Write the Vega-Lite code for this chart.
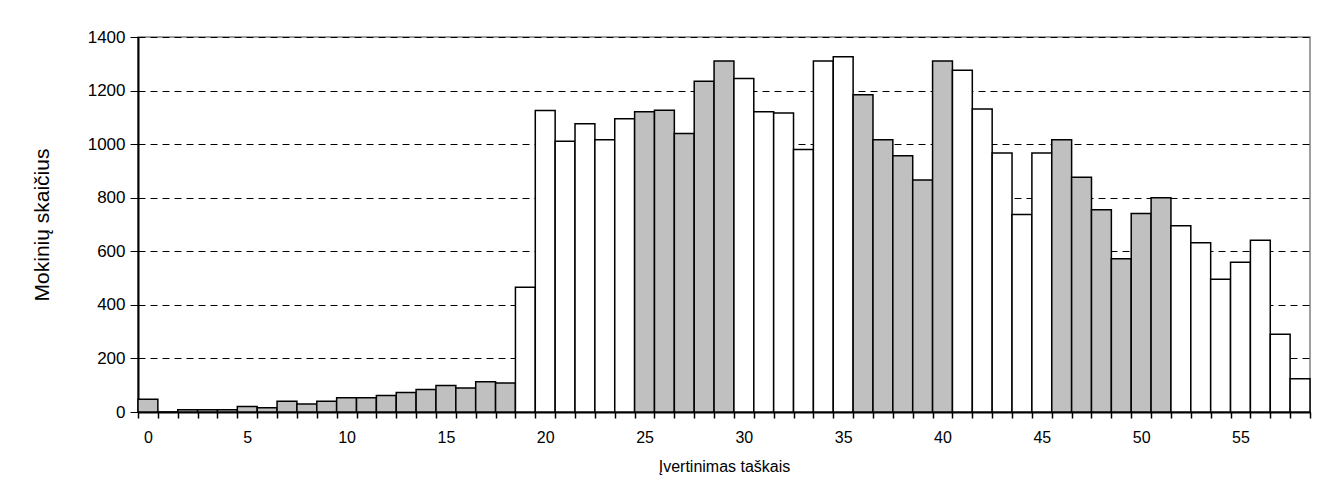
{
  "$schema": "https://vega.github.io/schema/vega-lite/v6.json",
  "width": 1172,
  "height": 375,
  "autosize": {"type": "none"},
  "padding": {"left": 138, "top": 37, "right": 19, "bottom": 81},
  "background": "white",
  "config": {
    "font": "Liberation Sans",
    "view": {"stroke": "#808080", "strokeWidth": 1.5},
    "axis": {"labelFont": "Liberation Sans", "titleFont": "Liberation Sans", "labelColor": "black", "titleColor": "black", "titleFontWeight": "normal"}
  },
  "data": {
    "values": [
      {"taskai": 0, "mokiniai": 48, "grupe": "A"},
      {"taskai": 1, "mokiniai": 0, "grupe": "A"},
      {"taskai": 2, "mokiniai": 8, "grupe": "A"},
      {"taskai": 3, "mokiniai": 8, "grupe": "A"},
      {"taskai": 4, "mokiniai": 8, "grupe": "A"},
      {"taskai": 5, "mokiniai": 21, "grupe": "A"},
      {"taskai": 6, "mokiniai": 16, "grupe": "A"},
      {"taskai": 7, "mokiniai": 40, "grupe": "A"},
      {"taskai": 8, "mokiniai": 30, "grupe": "A"},
      {"taskai": 9, "mokiniai": 40, "grupe": "A"},
      {"taskai": 10, "mokiniai": 53, "grupe": "A"},
      {"taskai": 11, "mokiniai": 53, "grupe": "A"},
      {"taskai": 12, "mokiniai": 62, "grupe": "A"},
      {"taskai": 13, "mokiniai": 73, "grupe": "A"},
      {"taskai": 14, "mokiniai": 84, "grupe": "A"},
      {"taskai": 15, "mokiniai": 99, "grupe": "A"},
      {"taskai": 16, "mokiniai": 90, "grupe": "A"},
      {"taskai": 17, "mokiniai": 113, "grupe": "A"},
      {"taskai": 18, "mokiniai": 108, "grupe": "A"},
      {"taskai": 19, "mokiniai": 466, "grupe": "B"},
      {"taskai": 20, "mokiniai": 1126, "grupe": "B"},
      {"taskai": 21, "mokiniai": 1011, "grupe": "B"},
      {"taskai": 22, "mokiniai": 1076, "grupe": "B"},
      {"taskai": 23, "mokiniai": 1016, "grupe": "B"},
      {"taskai": 24, "mokiniai": 1095, "grupe": "B"},
      {"taskai": 25, "mokiniai": 1121, "grupe": "A"},
      {"taskai": 26, "mokiniai": 1127, "grupe": "A"},
      {"taskai": 27, "mokiniai": 1040, "grupe": "A"},
      {"taskai": 28, "mokiniai": 1235, "grupe": "A"},
      {"taskai": 29, "mokiniai": 1310, "grupe": "A"},
      {"taskai": 30, "mokiniai": 1245, "grupe": "B"},
      {"taskai": 31, "mokiniai": 1121, "grupe": "B"},
      {"taskai": 32, "mokiniai": 1116, "grupe": "B"},
      {"taskai": 33, "mokiniai": 980, "grupe": "B"},
      {"taskai": 34, "mokiniai": 1310, "grupe": "B"},
      {"taskai": 35, "mokiniai": 1326, "grupe": "B"},
      {"taskai": 36, "mokiniai": 1184, "grupe": "A"},
      {"taskai": 37, "mokiniai": 1016, "grupe": "A"},
      {"taskai": 38, "mokiniai": 957, "grupe": "A"},
      {"taskai": 39, "mokiniai": 866, "grupe": "A"},
      {"taskai": 40, "mokiniai": 1310, "grupe": "A"},
      {"taskai": 41, "mokiniai": 1276, "grupe": "B"},
      {"taskai": 42, "mokiniai": 1131, "grupe": "B"},
      {"taskai": 43, "mokiniai": 967, "grupe": "B"},
      {"taskai": 44, "mokiniai": 737, "grupe": "B"},
      {"taskai": 45, "mokiniai": 967, "grupe": "B"},
      {"taskai": 46, "mokiniai": 1016, "grupe": "A"},
      {"taskai": 47, "mokiniai": 876, "grupe": "A"},
      {"taskai": 48, "mokiniai": 755, "grupe": "A"},
      {"taskai": 49, "mokiniai": 572, "grupe": "A"},
      {"taskai": 50, "mokiniai": 741, "grupe": "A"},
      {"taskai": 51, "mokiniai": 800, "grupe": "A"},
      {"taskai": 52, "mokiniai": 695, "grupe": "B"},
      {"taskai": 53, "mokiniai": 632, "grupe": "B"},
      {"taskai": 54, "mokiniai": 496, "grupe": "B"},
      {"taskai": 55, "mokiniai": 559, "grupe": "B"},
      {"taskai": 56, "mokiniai": 641, "grupe": "B"},
      {"taskai": 57, "mokiniai": 290, "grupe": "B"},
      {"taskai": 58, "mokiniai": 124, "grupe": "B"}
    ]
  },
  "mark": {"type": "bar", "stroke": "black", "strokeWidth": 1.5},
  "encoding": {
    "x": {
      "field": "taskai",
      "type": "ordinal",
      "sort": null,
      "scale": {"paddingInner": 0, "paddingOuter": 0},
      "axis": {
        "title": "Įvertinimas taškais",
        "titleFontSize": 16,
        "titlePadding": 13,
        "labelFontSize": 16,
        "labelAngle": 0,
        "labelPadding": 11,
        "labelOverlap": false,
        "labelExpr": "datum.value % 5 === 0 ? datum.label : ''",
        "tickBand": "extent",
        "tickSize": 6,
        "tickColor": "black",
        "tickWidth": 1.5,
        "domainColor": "black",
        "domainWidth": 2,
        "grid": false
      }
    },
    "y": {
      "field": "mokiniai",
      "type": "quantitative",
      "scale": {"domain": [0, 1400], "nice": false},
      "axis": {
        "title": "Mokinių skaičius",
        "titleFontSize": 21,
        "titlePadding": 35,
        "labelFontSize": 17,
        "labelPadding": 5,
        "format": "d",
        "values": [0, 200, 400, 600, 800, 1000, 1200, 1400],
        "tickSize": 8,
        "tickColor": "black",
        "domainColor": "black",
        "domainWidth": 2,
        "grid": true,
        "gridColor": "black",
        "gridDash": [7, 5],
        "gridWidth": 1
      }
    },
    "fill": {
      "field": "grupe",
      "type": "nominal",
      "scale": {"domain": ["A", "B"], "range": ["#C0C0C0", "#FFFFFF"]},
      "legend": null
    }
  }
}
